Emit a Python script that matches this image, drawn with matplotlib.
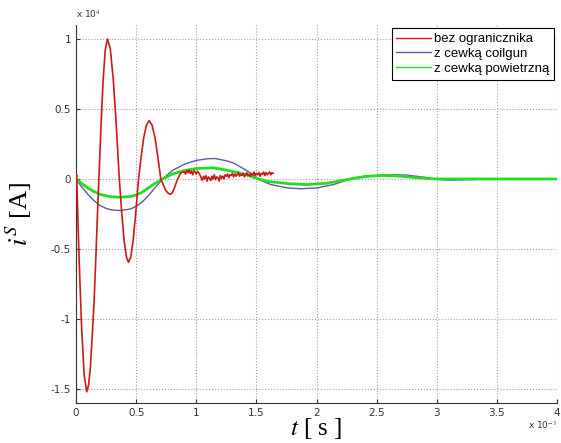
import matplotlib.pyplot as plt
import numpy as np
from matplotlib.ticker import FuncFormatter

plt.rcParams['mathtext.fontset'] = 'stix'

# czas w ms, prąd w jednostkach 1e4 A
t_bez = [0, 0.005, 0.026, 0.047, 0.068, 0.089, 0.105, 0.12, 0.136, 0.15, 0.165, 0.178,
         0.19, 0.208, 0.225, 0.243, 0.261, 0.285, 0.31, 0.335, 0.36, 0.38, 0.40, 0.42,
         0.436, 0.455, 0.475, 0.497, 0.52, 0.542, 0.564, 0.586, 0.608, 0.632, 0.656,
         0.68, 0.705, 0.725, 0.745, 0.765, 0.783, 0.80, 0.82, 0.84, 0.865, 0.885]
i_bez = [0, 0.03, -0.58, -1.07, -1.40, -1.52, -1.47, -1.34, -1.1, -0.88, -0.56, -0.26,
         0, 0.38, 0.70, 0.92, 1.0, 0.93, 0.71, 0.38, 0, -0.24, -0.44, -0.56,
         -0.595, -0.56, -0.44, -0.24, 0, 0.16, 0.30, 0.385, 0.417, 0.385, 0.30,
         0.16, 0, -0.04, -0.08, -0.10, -0.11, -0.10, -0.06, -0.01, 0.035, 0.05]
# zaszumiony ogon pomiaru bez ogranicznika (0.90 ... 1.64 ms)
i_bez_szum = [0.05, 0.035, 0.06, 0.045, 0.065, 0.04, 0.055, 0.03, 0.06, 0.05, 0.035, 0.055, 0.045, 0.03,
              0.01, -0.01, 0.02, 0.0, 0.025, -0.015, 0.015, 0.005, -0.01, 0.02, 0.0, 0.03, -0.005,
              0.015, 0.01, -0.015, 0.025, 0.005, 0.02, 0.0, 0.03,
              0.02, 0.035, 0.01, 0.03, 0.025, 0.04, 0.015, 0.035, 0.02, 0.03,
              0.045, 0.02, 0.035, 0.025, 0.04, 0.015, 0.03, 0.045, 0.025, 0.035,
              0.02, 0.04, 0.03, 0.05, 0.025, 0.04, 0.03, 0.045, 0.02, 0.04,
              0.035, 0.05, 0.025, 0.045, 0.03, 0.04, 0.05, 0.03, 0.045, 0.04]

t_coil = [0, 0.05, 0.1, 0.15, 0.2, 0.25, 0.3, 0.37, 0.45, 0.5, 0.55, 0.6, 0.65, 0.72,
          0.8, 0.9, 1.0, 1.1, 1.16, 1.25, 1.31, 1.4, 1.45, 1.51, 1.62, 1.76, 1.87, 2.0,
          2.14, 2.28, 2.45, 2.62, 2.75, 2.9, 3.0, 3.1, 3.2, 3.33]
i_coil = [0, -0.06, -0.11, -0.155, -0.19, -0.21, -0.222, -0.225, -0.215, -0.195, -0.165,
          -0.12, -0.07, 0, 0.06, 0.105, 0.133, 0.145, 0.146, 0.13, 0.114, 0.07, 0.043, 0,
          -0.04, -0.064, -0.07, -0.064, -0.04, 0, 0.02, 0.03, 0.028, 0.012, -0.003,
          -0.008, -0.006, -0.003]

t_pow = [0, 0.05, 0.1, 0.15, 0.2, 0.25, 0.3, 0.37, 0.45, 0.5, 0.55, 0.6, 0.65, 0.72,
         0.8, 0.9, 1.0, 1.14, 1.26, 1.35, 1.45, 1.52, 1.59, 1.76, 1.92, 2.09, 2.28, 2.4,
         2.55, 2.7, 2.85, 3.0, 3.5, 4.0]
i_pow = [0, -0.035, -0.065, -0.09, -0.11, -0.12, -0.128, -0.13, -0.125, -0.115, -0.095,
         -0.065, -0.035, 0, 0.035, 0.06, 0.075, 0.08, 0.062, 0.045, 0.02, 0.0, -0.017,
         -0.033, -0.04, -0.03, 0, 0.018, 0.026, 0.02, 0.008, 0.0, 0.0, 0.0]

t_red = np.concatenate([t_bez, np.linspace(0.90, 1.64, len(i_bez_szum))]) * 1e-3
i_red = np.concatenate([i_bez, i_bez_szum]) * 1e4

fig = plt.figure(figsize=(5.61, 4.43), dpi=100)
ax = fig.add_axes([0.1355, 0.0903, 0.8575, 0.8533])

ax.plot(t_red, i_red, color='#d01818', lw=1.2, label='bez ogranicznika', zorder=4)
ax.plot(np.array(t_coil) * 1e-3, np.array(i_coil) * 1e4, color='#5c5c9c', lw=1.0,
        label='z cewką coilgun', zorder=2)
ax.plot(np.array(t_pow) * 1e-3, np.array(i_pow) * 1e4, color='#22dd22', lw=2.0,
        label='z cewką powietrzną', zorder=3)

ax.set_xlim(0, 4e-3)
ax.set_ylim(-1.6e4, 1.1e4)
ax.set_xticks(np.arange(0, 4.01, 0.5) * 1e-3)
ax.set_yticks([-1.5e4, -1e4, -0.5e4, 0, 0.5e4, 1e4])
ax.xaxis.set_major_formatter(FuncFormatter(lambda v, p: '%g' % round(v * 1e3, 3)))
ax.yaxis.set_major_formatter(FuncFormatter(lambda v, p: '%g' % round(v / 1e4, 3)))
ax.tick_params(direction='in', length=3, labelsize=7.5, colors='#333333', width=0.8)
for s in ['top', 'right']:
    ax.spines[s].set_visible(False)
for s in ['left', 'bottom']:
    ax.spines[s].set_color('#333333')
ax.grid(True, linestyle=':', color='#a0a0a0', lw=0.8)

ax.text(0.0, 1.012, r'x 10$^{4}$', transform=ax.transAxes, fontsize=6.5, color='#333333',
        ha='left', va='bottom')
ax.text(1.0, -0.045, r'x 10$^{-3}$', transform=ax.transAxes, fontsize=6.5, color='#333333',
        ha='right', va='top')

ax.set_xlabel(r'$t$ [ s ]', fontsize=18, family='Liberation Serif', labelpad=-1)
ax.set_ylabel(r'$i^{S}$ [A]', fontsize=19, family='Liberation Serif', labelpad=12)

leg = ax.legend(loc='upper right', frameon=True, fancybox=False,
                edgecolor='black', framealpha=1, borderpad=0.35, labelspacing=0.2,
                handlelength=2.6, handletextpad=0.25, borderaxespad=0.25,
                prop={'family': 'Liberation Sans', 'size': 9.5})
leg.get_frame().set_linewidth(0.8)
for line in leg.get_lines():
    line.set_linewidth(1.0)

fig.savefig('out.png', dpi=100)
